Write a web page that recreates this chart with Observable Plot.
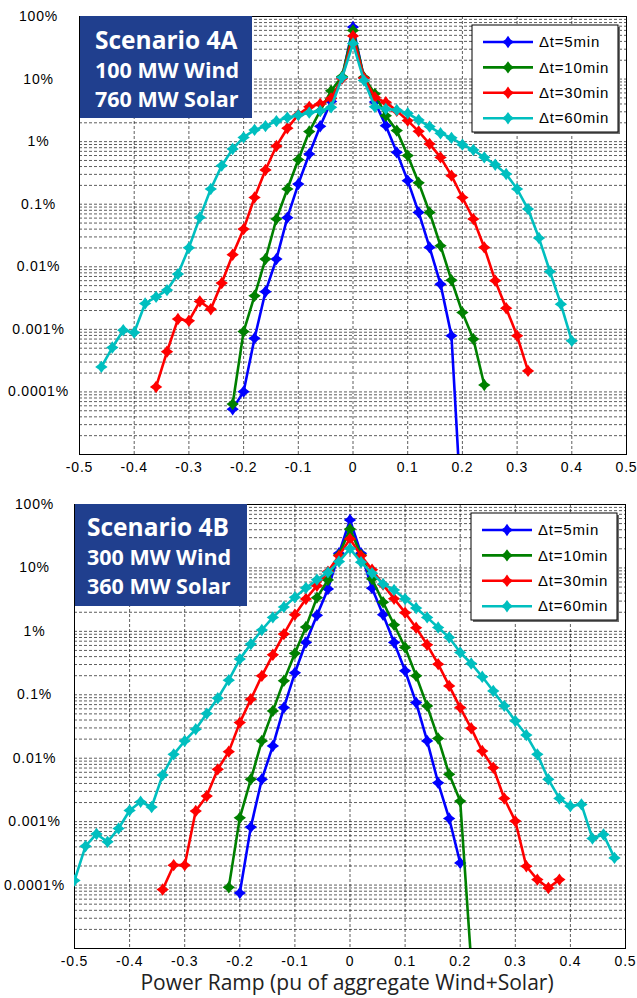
<!DOCTYPE html>
<html>
<head>
<meta charset="utf-8">
<script src="https://cdn.jsdelivr.net/npm/d3@7"></script>
<script src="https://cdn.jsdelivr.net/npm/@observablehq/plot@0.6"></script>
<style>
  body { margin: 0; background: #fff; }
  #chart { width: 637px; }
  #chart svg { display: block; overflow: visible; }
  g[aria-label$="tick label"] { letter-spacing: 0.8px; }
</style>
</head>
<body>
<div id="chart"></div>
<script>
// Ramp bins (pu of aggregate Wind+Solar)
const ramp = [
  -0.50, -0.48, -0.46, -0.44, -0.42, -0.40, -0.38, -0.36, -0.34, -0.32,
  -0.30, -0.28, -0.26, -0.24, -0.22, -0.20, -0.18, -0.16, -0.14, -0.12,
  -0.10, -0.08, -0.06, -0.04, -0.02, 0.00, 0.02, 0.04, 0.06, 0.08,
  0.10, 0.12, 0.14, 0.16, 0.18, 0.20, 0.22, 0.24, 0.26, 0.28,
  0.30, 0.32, 0.34, 0.36, 0.38, 0.40, 0.42, 0.44, 0.46, 0.48,
  0.50
];

const series = ["\u0394t=5min", "\u0394t=10min", "\u0394t=30min", "\u0394t=60min"];
const colors = ["#0000ff", "#008000", "#ff0000", "#00bfbf"];

// Scenario 4A: probability of each ramp (%), aligned with `ramp`
const a5min = [
  null, null, null, null, null, null, null, null, null, null,
  null, null, null, null, 5.3e-5, 1.01e-4, 7.2e-4, 0.004, 0.0133, 0.061,
  0.21, 0.635, 1.76, 4.4, 10.5, 68, 10.5, 4.3, 1.8, 0.674,
  0.238, 0.074, 0.0204, 0.00528, 0.00079, 6.3e-7, null, null, null, null,
  null, null, null, null, null, null, null, null, null, null,
  null
];
const a10min = [
  null, null, null, null, null, null, null, null, null, null,
  null, null, null, null, 6.4e-5, 9.2e-4, 0.00344, 0.0133, 0.058, 0.175,
  0.515, 1.45, 3.1, 6.5, 11, 60, 10.7, 5.8, 2.6, 1.5,
  0.6, 0.22, 0.074, 0.0217, 0.0061, 0.00186, 0.0007, 0.000129, null, null,
  null, null, null, null, null, null, null, null, null, null,
  null
];
const a30min = [
  null, null, null, null, null, null, null, 1.2e-4, 4.4e-4, 0.00146,
  0.00137, 0.0028, 0.0021, 0.0055, 0.0156, 0.040, 0.128, 0.353, 0.85, 1.64,
  2.7, 3.6, 4.0, 4.9, 10.2, 49, 10.4, 5.1, 4.25, 3.1,
  2.17, 1.46, 0.92, 0.56, 0.286, 0.128, 0.058, 0.0204, 0.006, 0.00218,
  0.00079, 0.000217, null, null, null, null, null, null, null, null,
  null
];
const a60min = [
  null, null, 2.51e-4, 5.12e-4, 9.7e-4, 8.9e-4, 0.00259, 0.00331, 0.00424, 0.00764,
  0.0201, 0.0615, 0.175, 0.413, 0.764, 1.17, 1.54, 1.77, 2.13, 2.42,
  2.65, 2.91, 3.1, 3.54, 10.6, 37, 9.5, 3.6, 3.33, 3.2,
  2.84, 2.22, 1.74, 1.36, 1.15, 0.895, 0.736, 0.561, 0.428, 0.304,
  0.175, 0.0838, 0.0288, 0.0084, 0.00253, 0.000655, null, null, null, null,
  null
];

// Scenario 4B
const b5min = [
  null, null, null, null, null, null, null, null, null, null,
  null, null, null, null, null, 7.5e-5, 8.2e-4, 0.00465, 0.0156, 0.0628,
  0.222, 0.668, 1.79, 4.66, 17, 57, 17, 4.8, 1.83, 0.668,
  0.239, 0.0753, 0.0187, 0.0041, 0.00112, 0.000223, null, null, null, null,
  null, null, null, null, null, null, null, null, null, null,
  null
];
const b10min = [
  null, null, null, null, null, null, null, null, null, null,
  null, null, null, null, 9.2e-5, 0.00115, 0.00465, 0.0187, 0.0557, 0.166,
  0.451, 1.17, 3.4, 6.46, 16, 41, 16, 6.7, 2.88, 1.27,
  0.557, 0.199, 0.0668, 0.0205, 0.00557, 0.00211, 6e-6, null, null, null,
  null, null, null, null, null, null, null, null, null, null,
  null
];
const b30min = [
  null, null, null, null, null, null, null, null, 8.5e-5, 2.06e-4,
  2.06e-4, 0.00147, 0.00253, 0.00668, 0.0127, 0.0364, 0.0851, 0.199, 0.427, 0.906,
  1.83, 3.24, 5.25, 8.75, 15.5, 28.7, 15.5, 9.4, 5.45, 3.27,
  1.97, 1.14, 0.614, 0.304, 0.138, 0.0628, 0.0296, 0.013, 0.00708, 0.00232,
  0.00102, 0.000198, 0.000122, 0.00009, 0.000122, null, null, null, null, null,
  null
];
const b60min = [
  1.18e-4, 4.1e-4, 6.4e-4, 4.8e-4, 7.8e-4, 0.0015, 0.00206, 0.0017, 0.00543, 0.0115,
  0.0187, 0.0286, 0.0505, 0.0883, 0.17, 0.365, 0.631, 1.05, 1.66, 2.42,
  3.44, 4.83, 6.53, 8.5, 12.6, 20.2, 12.3, 8.28, 5.58, 4.49,
  3.24, 2.33, 1.66, 1.15, 0.802, 0.464, 0.311, 0.192, 0.115, 0.0668,
  0.0387, 0.0232, 0.0115, 0.00465, 0.00232, 0.00176, 0.00187, 0.000543, 0.000628, 0.000268,
  null
];

const xTicks = [-0.5, -0.4, -0.3, -0.2, -0.1, 0, 0.1, 0.2, 0.3, 0.4, 0.5];
const yTicks = [100, 10, 1, 0.1, 0.01, 0.001, 0.0001];
const yTickLabels = ["100%", "10%", "1%", "0.1%", "0.01%", "0.001%", "0.0001%"];
const scenarioA = ["Scenario 4A", "100 MW Wind", "760 MW Solar"];
const scenarioB = ["Scenario 4B", "300 MW Wind", "360 MW Solar"];
const xLabel = "Power Ramp (pu of aggregate Wind+Solar)";

// log grid: 1..9 within every decade of the y domain
const decades = [1e-5, 1e-4, 1e-3, 1e-2, 1e-1, 1, 10];
const gridYValues = decades.flatMap(d => d3.range(1, 10).map(m => m * d)).concat([100]);

// four-pointed star marker
const star4 = {
  draw(ctx, size) {
    const r = Math.sqrt(size / Math.PI);
    const q = r * 0.42;
    ctx.moveTo(0, -r);
    ctx.lineTo(q, -q);
    ctx.lineTo(r, 0);
    ctx.lineTo(q, q);
    ctx.lineTo(0, r);
    ctx.lineTo(-q, q);
    ctx.lineTo(-r, 0);
    ctx.lineTo(-q, -q);
    ctx.closePath();
  }
};
const markerR = 6.2;

function toRows(cols) {
  return cols.flatMap((vals, s) =>
    ramp.map((r, i) => ({ramp: r, pct: vals[i], series: series[s]}))
        .filter(d => d.pct != null));
}

function panel(data, m) {
  const gridStyle = {stroke: "#000", strokeOpacity: 0.8, strokeWidth: 0.8, strokeDasharray: "3,2"};
  const marks = [
    Plot.gridY(gridYValues, gridStyle),
    Plot.gridX(xTicks, gridStyle),
    Plot.frame({stroke: "#000", strokeWidth: 1}),
    Plot.axisX(xTicks, {tickSize: 0, tickPadding: 8, label: null, fontSize: 14,
      tickFormat: d => String(d)}),
    Plot.axisY(yTicks, {tickSize: 0, tickPadding: m.left - m.labelCenter, label: null, fontSize: 14,
      textAnchor: "middle", tickFormat: d => yTickLabels[yTicks.indexOf(d)]})
  ];
  series.forEach((s, k) => {
    const sub = data.filter(d => d.series === s);
    marks.push(Plot.line(sub, {x: "ramp", y: "pct", stroke: colors[k], strokeWidth: 2.6, clip: true}));
    marks.push(Plot.dot(sub, {x: "ramp", y: "pct", fill: colors[k], stroke: "none", symbol: star4, r: markerR, clip: true}));
  });
  return Plot.plot({
    width: 637,
    height: m.height,
    marginTop: m.top,
    marginBottom: m.bottom,
    marginLeft: m.left,
    marginRight: m.right,
    x: {domain: [-0.5, 0.5]},
    y: {type: "log", domain: [1e-5, 100]},
    style: {fontFamily: "'Liberation Sans', Arial, sans-serif", fontSize: "14px", color: "#000", background: "#fff"},
    marks
  });
}

function addScenarioBox(svg, lines, b) {
  const g = d3.select(svg).append("g").attr("text-anchor", "start");
  g.append("rect").attr("x", b.x).attr("y", b.y).attr("width", b.w).attr("height", b.h).attr("fill", "#203f8e");
  lines.forEach((t, i) => {
    g.append("text")
      .attr("x", b.tx).attr("y", b.baselines[i])
      .attr("text-anchor", "start")
      .attr("fill", "#fff")
      .attr("font-family", "'Open Sans', 'Noto Sans', sans-serif")
      .attr("font-weight", "bold")
      .attr("font-size", i === 0 ? 24.5 : 21.5)
      .text(t);
  });
}

function addLegend(svg, x0, y0) {
  const g = d3.select(svg).append("g").attr("text-anchor", "start");
  const w = 146, h = 107;
  g.append("rect").attr("x", x0 + 2).attr("y", y0 + 2).attr("width", w).attr("height", h).attr("fill", "#6e6e6e");
  g.append("rect").attr("x", x0).attr("y", y0).attr("width", w).attr("height", h).attr("fill", "#fff").attr("stroke", "#000").attr("stroke-width", 1);
  const sym = d3.symbol(star4, Math.PI * markerR * markerR);
  series.forEach((s, k) => {
    const y = y0 + 17 + k * 25.4;
    g.append("line").attr("x1", x0 + 11).attr("x2", x0 + 61).attr("y1", y).attr("y2", y)
      .attr("stroke", colors[k]).attr("stroke-width", 2.6);
    g.append("path").attr("d", sym()).attr("transform", `translate(${x0 + 36},${y})`).attr("fill", colors[k]);
    g.append("text").attr("x", x0 + 67).attr("y", y).attr("dy", "0.35em")
      .attr("text-anchor", "start")
      .attr("font-family", "'Liberation Sans', Arial, sans-serif").attr("font-size", 15)
      .attr("letter-spacing", "0.8px")
      .text(s);
  });
}

const chart = document.getElementById("chart");

const svgA = panel(toRows([a5min, a10min, a30min, a60min]),
  {height: 490, top: 16, bottom: 36, left: 79, right: 11, labelCenter: 38});
addScenarioBox(svgA, scenarioA, {x: 80, y: 16, w: 172, h: 102, tx: 95, baselines: [49, 78, 106.5]});
addLegend(svgA, 472, 25);
chart.appendChild(svgA);

const svgB = panel(toRows([b5min, b10min, b30min, b60min]),
  {height: 508, top: 14, bottom: 50, left: 74, right: 12, labelCenter: 34});
addScenarioBox(svgB, scenarioB, {x: 75, y: 14, w: 172, h: 102, tx: 87, baselines: [46, 75, 103.5]});
addLegend(svgB, 471, 23);
d3.select(svgB).append("text")
  .attr("x", 347).attr("y", 500)
  .attr("text-anchor", "middle")
  .attr("font-family", "'Open Sans', 'Noto Sans', sans-serif")
  .attr("font-size", 21)
  .attr("fill", "#222")
  .text(xLabel);
chart.appendChild(svgB);
</script>
</body>
</html>
